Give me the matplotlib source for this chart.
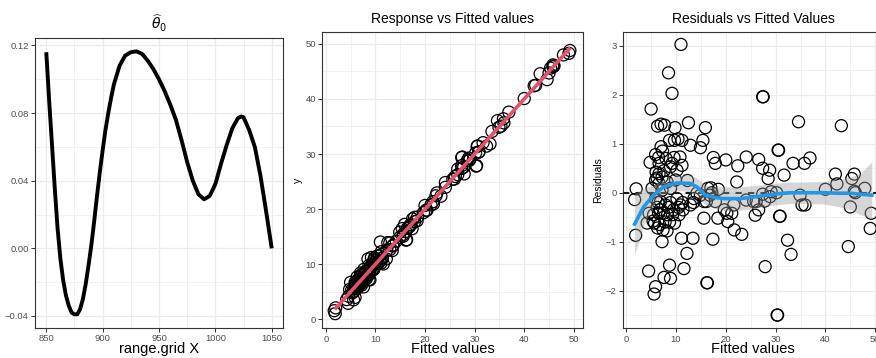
import matplotlib
matplotlib.use("Agg")
import matplotlib.pyplot as plt
import numpy as np
from matplotlib.ticker import MultipleLocator

plt.rcParams["font.family"] = ["Liberation Sans", "DejaVu Sans"]
plt.rcParams["mathtext.fontset"] = "dejavusans"

# ---- panel 1: estimated theta_0 curve over the grid ----
grid_x = [850, 852.5, 855, 857.5, 860, 862.5, 865, 867.5, 870, 872.5, 875, 877.5,
          880, 882.5, 885, 887.5, 890, 892.5, 895, 897.5, 900, 902.5, 905, 907.5,
          910, 915, 920, 925, 930, 935, 940, 945, 950, 955, 960, 965, 970, 975,
          980, 985, 990, 995, 1000, 1005, 1010, 1015, 1020, 1023, 1025, 1030,
          1035, 1040, 1045, 1050]
theta0 = [0.116, 0.088, 0.062, 0.036, 0.012, -0.006, -0.019, -0.028, -0.034, -0.038,
          -0.039, -0.039, -0.036, -0.030, -0.021, -0.010, 0.002, 0.016, 0.031, 0.045,
          0.058, 0.070, 0.080, 0.089, 0.097, 0.108, 0.114, 0.116, 0.1165, 0.115,
          0.111, 0.106, 0.100, 0.093, 0.085, 0.076, 0.064, 0.051, 0.040, 0.032,
          0.029, 0.031, 0.038, 0.050, 0.061, 0.071, 0.077, 0.078, 0.0775, 0.070,
          0.060, 0.043, 0.022, 0.000]

# ---- panels 2/3: fitted values and residuals ----
fitted = [1.7, 2.0, 1.9, 4.5, 4.6, 4.2, 4.8, 5.0,
          5.2, 5.5, 5.6, 5.9, 5.9, 6.0, 5.9, 5.9, 5.7, 6.2, 5.4,
          6.3, 6.5, 6.6, 6.6, 6.6, 6.4, 6.5, 6.7, 6.3, 6.9, 6.8, 6.2,
          7.0, 7.0, 7.2, 7.2, 7.2, 7.6, 7.7, 7.9, 7.5, 7.8, 7.4, 8.0, 7.3, 7.6,
          8.2, 8.5, 8.7, 8.7, 8.9, 8.9, 8.9, 8.3, 8.5, 8.7, 8.2, 8.9,
          9.2, 9.2, 9.7, 9.8, 9.9, 9.5, 9.7, 9.3, 9.6,
          10.2, 10.2, 10.4, 10.9, 10.5, 10.6, 10.8,
          11.0, 11.1, 11.2, 11.2, 11.6, 11.4, 11.3,
          12.2, 12.5, 12.9, 12.9, 12.3,
          13.4, 13.6, 13.5, 14.2, 14.9, 14.9,
          15.4, 15.6, 15.6, 15.9, 16.1, 16.2, 16.3, 16.4,
          17.2, 17.4, 17.5, 17.9, 17.9, 18.5, 18.4, 16.8, 17.0,
          19.7, 20.0, 20.2, 20.4, 21.6, 21.7, 22.2, 22.4, 23.2, 21.2,
          24.1, 24.1, 25.6, 25.9, 26.1, 26.6, 26.6, 27.4, 27.5, 27.4, 27.4, 27.8,
          27.9, 28.5, 28.8, 28.9, 29.1,
          30.2, 30.3, 30.4, 30.5, 30.6, 30.8, 30.9, 31.7, 32.4, 33.1, 33.5, 34.6,
          34.9, 35.3, 35.9, 35.8, 36.9,
          40.0, 42.0, 42.3, 43.2, 44.6, 45.0, 45.3, 45.8, 45.8, 46.0, 47.9, 49.2, 49.0]
resid = [-0.14, 0.08, -0.87, -1.60, -0.42, -0.62, 0.62, 1.71,
         0.09, -0.45, -2.07, -1.92, 0.78, 0.42, 0.26, -0.12, -0.62, -0.30, -0.58,
         1.36, 0.72, 0.60, 0.39, 0.19, -0.20, -0.42, -0.65, -0.72, -0.18, -0.35, 0.30,
         1.40, 0.94, 0.32, 0.05, -1.00, -1.73, 1.38, -0.25, -0.42, -0.60, -0.76, 0.70, 0.85, 0.45,
         0.22, 2.45, 1.07, -1.48, -1.75, 0.53, 0.09, -0.45, -0.30, -0.60, -0.78, -0.20,
         2.03, 0.60, 1.07, 1.33, 0.26, -0.35, -0.62, -0.45, 0.72,
         0.46, -0.12, 1.10, -0.25, -0.30, -0.45, 0.73,
         3.03, -0.93, 1.07, 0.56, -1.55, -0.35, -0.20,
         -1.24, 1.43, 0.97, -0.25, 0.25,
         -0.93, -0.12, -0.20, -0.01, 0.92, -0.05,
         1.07, -0.18, -0.52, 1.33, -0.18, -1.84, -1.84, 0.09,
         0.00, -0.95, 0.72, 0.60, -0.18, 0.07, -0.52, -0.05, 0.10,
         -0.35, 0.67, -0.42, -0.59, -0.25, -0.76, 0.22, 0.55, -0.85, -0.42,
         0.73, -0.15, -0.18, -0.46, -0.18, 0.68, -0.35, 1.96, 1.96, 0.50, -0.03, -0.17,
         -1.51, 0.29, 0.46, -0.08, 0.02,
         0.00, -2.50, -2.50, 0.87, 0.87, -0.48, -0.48, 0.36, -0.97, -1.26, 0.60, 1.45,
         -0.05, -0.25, -0.25, 0.60, 0.71,
         0.07, 0.38, 0.18, 1.37, -1.10, -0.29, 0.29, 0.38, 0.03, 0.00, 0.09, -0.42, -0.73]
response = np.array(fitted) + np.array(resid)

fit_range = [1.8, 49.3]

# loess smooth of residuals with confidence band
smooth_x = [1.7, 3.5, 5.5, 7.5, 10.2, 12.8, 14.2, 15.9, 17.5, 19.5, 22.9, 26.2,
            29.6, 32.9, 36.0, 39.6, 42.5, 45.0, 47.0, 49.3]
smooth_y = [-0.64, -0.29, -0.05, 0.12, 0.20, 0.19, 0.12, -0.05, -0.09, -0.12, -0.12,
            -0.08, -0.03, 0.00, 0.00, 0.00, -0.01, -0.01, -0.03, -0.05]
smooth_lo = [-1.27, -0.67, -0.25, -0.03, 0.05, 0.02, -0.06, -0.25, -0.31, -0.36, -0.36,
             -0.31, -0.25, -0.22, -0.22, -0.23, -0.28, -0.34, -0.45, -0.52]
smooth_hi = [-0.02, 0.09, 0.15, 0.27, 0.35, 0.36, 0.30, 0.15, 0.13, 0.12, 0.12,
             0.15, 0.19, 0.22, 0.22, 0.23, 0.26, 0.32, 0.39, 0.63]

GRID = "#EBEBEB"
BORDER = "#333333"
TICKLAB = "#4D4D4D"
RED = "#DF536B"
BLUE = "#2297E6"


def theme_bw(ax, xmaj, xmin, ymaj, ymin):
    ax.xaxis.set_major_locator(MultipleLocator(xmaj))
    ax.xaxis.set_minor_locator(MultipleLocator(xmin))
    ax.yaxis.set_major_locator(MultipleLocator(ymaj))
    ax.yaxis.set_minor_locator(MultipleLocator(ymin))
    ax.grid(which="major", color=GRID, lw=0.9, zorder=0)
    ax.grid(which="minor", color=GRID, lw=0.5, zorder=0)
    ax.set_axisbelow(True)
    for s in ax.spines.values():
        s.set_color(BORDER)
        s.set_linewidth(0.8)
    ax.tick_params(which="major", length=3, width=0.7, color=BORDER,
                   labelsize=6.8, labelcolor=TICKLAB, pad=1.5)
    ax.tick_params(which="minor", length=0)


fig = plt.figure(figsize=(8.76, 3.58), dpi=100)
W, H = 876, 358


def add_axes(left, top, right, bottom):
    return fig.add_axes([left / W, 1 - bottom / H, (right - left) / W, (bottom - top) / H])


# panel 1
ax1 = add_axes(35, 38, 283, 328)
ax1.plot(grid_x, theta0, color="black", lw=2.8, solid_capstyle="butt", zorder=3)
ax1.set_xlim(840, 1060)
ax1.set_ylim(-0.0471, 0.1244)
theme_bw(ax1, 50, 25, 0.04, 0.02)
ax1.yaxis.set_major_formatter(plt.FuncFormatter(lambda v, p: f"{v:.2f}".replace("-", "\u2212")))
ax1.set_title(r"$\widehat{\theta}_0$", fontsize=10, pad=6)
ax1.set_xlabel("range.grid X", fontsize=10.5, labelpad=-1)

# panel 2
ax2 = add_axes(322.3, 31.7, 583.3, 328.3)
ax2.scatter(fitted, response, s=75, facecolors="none", edgecolors="black", linewidths=0.9, zorder=3)
ax2.plot(fit_range, fit_range, color=RED, lw=2.6, solid_capstyle="butt", zorder=4)
ax2.set_xlim(-0.7, 51.9)
ax2.set_ylim(-1.63, 52.2)
theme_bw(ax2, 10, 5, 10, 5)
ax2.set_title("Response vs Fitted values", fontsize=10, pad=6)
ax2.set_xlabel("Fitted values", fontsize=10.5, labelpad=-1)
ax2.set_ylabel("y", fontsize=7.5, labelpad=2)

# panel 3 (cropped on the right, as in the original)
ax3 = add_axes(622.7, 31.7, 883.7, 328.3)
ax3.scatter(fitted, resid, s=75, facecolors="none", edgecolors="black", linewidths=0.9, zorder=3)
ax3.axhline(0, color="#1A1A1A", lw=1.5, ls=(0, (3, 3)), zorder=4)
ax3.fill_between(smooth_x, smooth_lo, smooth_hi, color="#999999", alpha=0.4, lw=0, zorder=5)
ax3.plot(smooth_x, smooth_y, color=BLUE, lw=2.6, zorder=6)
ax3.set_xlim(-0.7, 51.7)
ax3.set_ylim(-2.77, 3.29)
theme_bw(ax3, 10, 5, 1, 0.5)
ax3.yaxis.set_major_formatter(plt.FuncFormatter(lambda v, p: f"{v:.0f}".replace("-", "\u2212")))
ax3.set_title("Residuals vs Fitted Values", fontsize=10, pad=6)
ax3.set_xlabel("Fitted values", fontsize=10.5, labelpad=-1)
ax3.set_ylabel("Residuals", fontsize=7.5, labelpad=2)

fig.savefig("out.png", dpi=100)
